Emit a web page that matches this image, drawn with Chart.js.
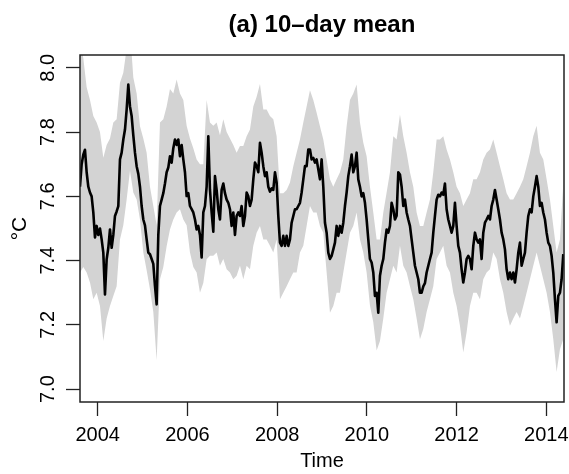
<!DOCTYPE html>
<html><head><meta charset="utf-8">
<script src="https://cdn.jsdelivr.net/npm/chart.js@4"></script>
<style>html,body{margin:0;padding:0;background:#fff}#wrap{width:569px;height:474px}</style>
</head><body><div id="wrap"><canvas id="c" width="569" height="474"></canvas></div>
<script>
// regular time series: start year and step (years)
const meanStart = 2003.605, meanStep = 0.03715;
const meanValues = [
7.63,7.70,7.73,7.745,7.675,7.63,7.612,7.60,7.55,7.472,
7.508,7.48,7.50,7.466,7.425,7.295,7.404,7.44,7.497,7.44,
7.48,7.539,7.553,7.57,7.715,7.736,7.777,7.808,7.87,7.948,
7.88,7.85,7.79,7.736,7.694,7.67,7.63,7.57,7.528,7.51,
7.466,7.425,7.42,7.405,7.39,7.321,7.264,7.48,7.57,7.59,
7.61,7.64,7.675,7.69,7.725,7.705,7.75,7.777,7.76,7.777,
7.725,7.76,7.715,7.675,7.601,7.61,7.57,7.56,7.55,7.528,
7.497,7.508,7.48,7.41,7.55,7.57,7.63,7.787,7.62,7.55,
7.49,7.663,7.62,7.56,7.528,7.62,7.64,7.61,7.59,7.58,
7.56,7.508,7.55,7.48,7.539,7.55,
7.539,7.57,7.508,7.539,7.612,7.60,7.57,7.59,7.653,7.705,
7.694,7.675,7.767,7.736,7.694,7.663,7.675,7.63,7.615,7.625,
7.62,7.675,7.643,7.539,7.456,7.446,7.477,7.446,7.477,7.446,
7.466,7.518,7.539,7.56,7.56,7.57,7.58,7.612,7.653,7.694,
7.694,7.746,7.746,7.715,7.72,7.705,7.715,7.684,7.653,7.715,
7.63,7.518,7.487,7.425,7.405,7.415,7.435,7.456,7.508,7.477,
7.508,7.487,7.518,7.57,7.612,7.663,7.694,7.73,7.675,7.694,
7.736,7.653,7.63,7.60,7.61,7.58,7.528,7.466,7.405,7.394,
7.363,7.29,7.30,7.238,7.353,7.384,7.405,7.456,7.497,7.487,
7.508,7.58,7.56,7.528,7.54,7.675,
7.668,7.63,7.57,7.59,7.55,7.528,7.508,7.466,7.425,7.384,
7.363,7.342,7.30,7.30,7.32,7.33,7.363,7.384,7.405,7.425,
7.487,7.539,7.59,7.605,7.60,7.612,7.605,7.64,7.56,7.528,
7.508,7.487,7.508,7.58,7.508,7.446,7.425,7.373,7.332,7.363,
7.405,7.415,7.405,7.373,7.446,7.487,7.466,7.456,7.466,7.405,
7.487,7.518,7.528,7.539,7.528,7.57,7.59,7.62,7.59,7.56,
7.528,7.487,7.466,7.435,7.373,7.342,7.363,7.342,7.363,7.332,
7.373,7.425,7.456,7.384,7.405,7.425,7.487,7.539,7.56,7.55,
7.60,7.63,7.663,7.63,7.57,7.58,7.55,7.528,7.487,7.456,
7.446,7.415,7.363,7.28,7.208,7.29,7.30,7.342,7.42
];
const bandStart = 2003.605, bandStep = 0.0743;
const bandUpper = [
8.10,8.03,7.94,7.90,7.85,7.83,7.80,7.72,7.76,7.78,
7.83,7.84,7.954,7.985,8.06,8.12,7.97,7.92,7.818,7.78,
7.736,7.63,7.57,7.51,7.83,7.84,7.88,7.934,7.92,7.964,
7.92,7.90,7.82,7.78,7.75,7.715,7.70,7.70,7.90,7.83,
7.82,7.83,7.79,7.84,7.80,7.78,7.76,7.736,
7.757,7.757,7.787,7.808,7.88,7.91,7.95,7.87,7.87,7.85,
7.84,7.787,7.61,7.61,7.62,7.643,7.694,7.736,7.777,7.83,
7.88,7.93,7.90,7.86,7.818,7.777,7.715,7.653,7.63,7.653,
7.675,7.715,7.818,7.90,7.92,7.948,7.83,7.767,7.725,7.63,
7.55,7.466,7.466,7.55,7.612,7.675,7.787,7.777,
7.855,7.787,7.736,7.675,7.63,7.55,7.508,7.508,7.55,7.59,
7.675,7.777,7.777,7.787,7.746,7.715,7.675,7.63,7.61,7.57,
7.59,7.61,7.653,7.653,7.675,7.715,7.736,7.746,7.777,7.736,
7.694,7.653,7.61,7.59,7.59,7.61,7.63,7.653,7.694,7.736,
7.787,7.82,7.736,7.715,7.653,7.59,7.508,7.425,7.466,7.64
];
const bandLower = [
7.363,7.38,7.363,7.332,7.28,7.30,7.259,7.15,7.22,7.259,
7.29,7.32,7.466,7.51,7.59,7.68,7.612,7.59,7.528,7.425,
7.37,7.311,7.24,7.09,7.342,7.38,7.445,7.497,7.528,7.55,
7.56,7.528,7.51,7.425,7.38,7.363,7.30,7.33,7.404,7.415,
7.415,7.425,7.384,7.405,7.373,7.363,7.342,7.353,
7.384,7.342,7.384,7.373,7.446,7.487,7.508,7.466,7.466,7.446,
7.425,7.466,7.28,7.30,7.32,7.342,7.363,7.363,7.425,7.446,
7.508,7.57,7.55,7.55,7.508,7.487,7.363,7.238,7.259,7.30,
7.30,7.363,7.425,7.487,7.508,7.55,7.466,7.425,7.363,7.26,
7.208,7.12,7.15,7.22,7.30,7.342,7.384,7.363,
7.446,7.384,7.363,7.32,7.28,7.22,7.155,7.187,7.24,7.28,
7.32,7.405,7.425,7.446,7.384,7.363,7.30,7.259,7.197,7.114,
7.177,7.259,7.30,7.30,7.28,7.342,7.363,7.373,7.425,7.405,
7.342,7.30,7.24,7.197,7.22,7.24,7.22,7.259,7.30,7.342,
7.384,7.425,7.384,7.342,7.30,7.24,7.155,7.053,7.124,7.155
];
const xTicks = [2004, 2006, 2008, 2010, 2012, 2014];
const yTicks = [7.0, 7.2, 7.4, 7.6, 7.8, 8.0];
const titleText = '(a) 10\u2013day mean';
const xTitle = 'Time';
const yTitle = '\u00B0C';

const FAM = "'Liberation Sans', Arial, Helvetica, sans-serif";
const meanData = meanValues.map((v, i) => ({x: meanStart + i * meanStep, y: v}));
const upperData = bandUpper.map((v, i) => ({x: bandStart + i * bandStep, y: v}));
const lowerData = bandLower.map((v, i) => ({x: bandStart + i * bandStep, y: v}));

const boxPlugin = {
  id: 'box',
  afterDatasetsDraw(chart) {
    const a = chart.chartArea, c = chart.ctx;
    c.save();
    c.strokeStyle = '#222';
    c.lineWidth = 1.5;
    c.strokeRect(a.left, a.top, a.right - a.left, a.bottom - a.top);
    c.restore();
  }
};

const tickGrid = {display: true, drawOnChartArea: false, drawTicks: true, tickLength: 14, tickColor: '#222', tickWidth: 1.3};

new Chart(document.getElementById('c'), {
  type: 'line',
  data: {datasets: [
    {label: 'mean', data: meanData, borderColor: '#000', borderWidth: 2.6, pointRadius: 0, fill: false, order: 0, clip: 0, tension: 0, borderJoinStyle: 'round'},
    {label: 'upper', data: upperData, borderWidth: 0, borderColor: 'rgba(0,0,0,0)', backgroundColor: '#D3D3D3', pointRadius: 0, fill: '+1', order: 1, clip: 0},
    {label: 'lower', data: lowerData, borderWidth: 0, borderColor: 'rgba(0,0,0,0)', backgroundColor: '#D3D3D3', pointRadius: 0, fill: false, order: 2, clip: 0}
  ]},
  options: {
    responsive: false, animation: false, devicePixelRatio: 1,
    layout: {padding: {left: 0, right: 5, top: 0, bottom: 0}},
    plugins: {
      legend: {display: false}, tooltip: {enabled: false},
      title: {display: true, fullSize: false, text: titleText, color: '#000', font: {family: FAM, size: 24, weight: 'bold', lineHeight: 1.2}, padding: {top: 11, bottom: 15.2}}
    },
    scales: {
      x: {
        type: 'linear', min: 2003.6054, max: 2014.3946, bounds: 'data',
        afterBuildTicks: s => { s.ticks = xTicks.map(v => ({value: v})); },
        afterFit: s => { s.height = 72; s.paddingLeft = 0; s.paddingRight = 0; },
        grid: tickGrid, border: {display: false},
        ticks: {color: '#000', font: {family: FAM, size: 20}, padding: 7, maxRotation: 0, minRotation: 0, autoSkip: false, callback: v => String(v)},
        title: {display: true, text: xTitle, color: '#000', font: {family: FAM, size: 20}, padding: {top: 0, bottom: 1}}
      },
      y: {
        type: 'linear', min: 6.96, max: 8.04, bounds: 'data',
        afterBuildTicks: s => { s.ticks = yTicks.map(v => ({value: v})); },
        afterFit: s => { s.width = 80; s.paddingTop = 0; s.paddingBottom = 0; },
        grid: tickGrid, border: {display: false},
        ticks: {color: '#000', font: {family: FAM, size: 20}, padding: 4, minRotation: 90, maxRotation: 90, crossAlign: 'center', autoSkip: false, callback: v => v.toFixed(1)},
        title: {display: true, text: yTitle, color: '#000', font: {family: FAM, size: 21}, padding: {top: 8, bottom: 0}}
      }
    }
  },
  plugins: [boxPlugin]
});
</script>
</body></html>
